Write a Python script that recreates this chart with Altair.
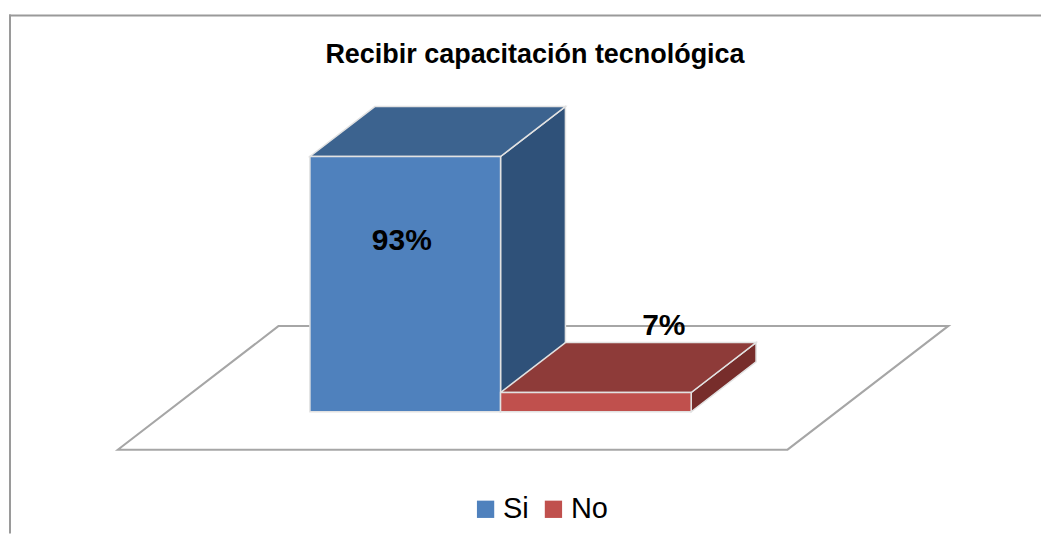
import altair as alt
import pandas as pd

# ---- data ----
categories = ["Si", "No"]
values = [93, 7]
title_text = "Recibir capacitación tecnológica"

# ---- styles ----
front_colors = ["#4F81BD", "#C0504D"]
top_colors = ["#3C638F", "#8E3B39"]
side_colors = ["#2F5179", "#772D2B"]
EDGE = "#E2E2E2"
FONT = "Liberation Sans"

# ---- 3D projection parameters (in scale units) ----
DU = 0.3403      # horizontal shift for one unit of bar depth (category units)
DV = 18.18       # vertical shift for one unit of bar depth (percent units)
FLOOR_L, FLOOR_R = -1.249, 2.264
FLOOR_D0, FLOOR_D1 = -0.76, 1.72

W, H = 1034, 526
XD = [-2.07853, 3.33508]
YD = [-44.364, 146.909]
xs = alt.Scale(domain=XD, nice=False, zero=False)
ys = alt.Scale(domain=YD, nice=False, zero=False)

# ---- tables derived from the data ----
front_rows, top_rows, side_rows, label_rows = [], [], [], []
for i, (c, v) in enumerate(zip(categories, values)):
    u = float(i)
    front_rows.append({"cat": c, "x0": u - 0.5, "x1": u + 0.5, "y0": 0.0, "y1": v})
    for d in (0.0, 1.0):
        top_rows.append({"cat": c, "y": v + d * DV, "xl": u - 0.5 + d * DU,
                         "xr": u + 0.5 + d * DU, "fill": top_colors[i]})
        side_rows.append({"cat": c, "x": u + 0.5 + d * DU, "yt": v + d * DV,
                          "yb": d * DV, "fill": side_colors[i]})
    if v > 50:
        lx, ly = u - 0.018, v * 0.67
    else:
        lx, ly = u + DU + 0.016, v + DV + 6.2
    label_rows.append({"cat": c, "lx": lx, "ly": ly, "txt": f"{v}%"})

floor_rows = []
for d in (FLOOR_D0, FLOOR_D1):
    floor_rows.append({"y": d * DV, "xl": FLOOR_L + d * DU, "xr": FLOOR_R + d * DU})

front_df = pd.DataFrame(front_rows)
top_df = pd.DataFrame(top_rows)
side_df = pd.DataFrame(side_rows)
label_df = pd.DataFrame(label_rows)
floor_df = pd.DataFrame(floor_rows)
one = pd.DataFrame({"k": [0]})

# ---- layers ----
border_top = alt.Chart(one).mark_rule(color="#9A9A9A", strokeWidth=2).encode(
    x=alt.value(0), x2=alt.value(W), y=alt.value(7))
border_left = alt.Chart(one).mark_rule(color="#9A9A9A", strokeWidth=2).encode(
    x=alt.value(1), y=alt.value(6), y2=alt.value(H))

floor = alt.Chart(floor_df).mark_area(
    orient="horizontal", fill="white", stroke="#A6A6A6", strokeWidth=2
).encode(
    y=alt.Y("y:Q", scale=ys, axis=None),
    x=alt.X("xl:Q", scale=xs, axis=None, stack=None),
    x2="xr:Q",
)

side = alt.Chart(side_df).mark_area(
    orient="vertical", stroke=EDGE, strokeWidth=1.5
).encode(
    x=alt.X("x:Q", scale=xs, axis=None),
    y=alt.Y("yt:Q", scale=ys, axis=None, stack=None),
    y2="yb:Q",
    detail="cat:N",
    fill=alt.Fill("fill:N", scale=None),
)

top = alt.Chart(top_df).mark_area(
    orient="horizontal", stroke=EDGE, strokeWidth=1.5
).encode(
    y=alt.Y("y:Q", scale=ys, axis=None),
    x=alt.X("xl:Q", scale=xs, axis=None, stack=None),
    x2="xr:Q",
    detail="cat:N",
    fill=alt.Fill("fill:N", scale=None),
)

front = alt.Chart(front_df).mark_rect(stroke=EDGE, strokeWidth=1.5).encode(
    x=alt.X("x0:Q", scale=xs, axis=None),
    x2="x1:Q",
    y=alt.Y("y0:Q", scale=ys, axis=None),
    y2="y1:Q",
    color=alt.Color(
        "cat:N",
        scale=alt.Scale(domain=categories, range=front_colors),
        sort=categories,
        legend=alt.Legend(
            title=None, orient="none", legendX=463, legendY=487,
            direction="horizontal", symbolType="square", symbolSize=300,
            symbolStrokeWidth=0, labelFontSize=29, labelFont=FONT,
            labelColor="#000000", columnPadding=10, labelOffset=3, padding=0,
        ),
    ),
)

labels = alt.Chart(label_df).mark_text(
    font=FONT, fontSize=30, fontWeight="bold", color="#000000",
    align="center", baseline="middle"
).encode(
    x=alt.X("lx:Q", scale=xs, axis=None),
    y=alt.Y("ly:Q", scale=ys, axis=None),
    text="txt:N",
)

title = alt.Chart(one).mark_text(
    font=FONT, fontSize=27, fontWeight="bold", color="#000000",
    align="center", baseline="alphabetic", text=title_text
).encode(x=alt.value(527), y=alt.value(55))

chart = alt.layer(
    border_top, border_left, floor, side, top, front, labels, title
).properties(width=W, height=H, padding=0).configure_view(stroke=None)

chart.save("out.html", embed_options={"renderer": "svg", "actions": False})
